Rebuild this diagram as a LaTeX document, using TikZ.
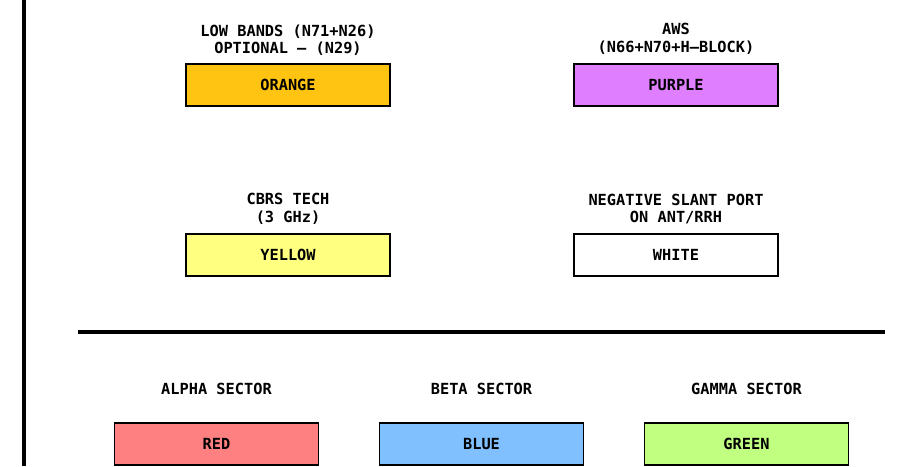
\documentclass[tikz,border=0pt]{standalone}
\usepackage{fontspec}
\setmainfont{DejaVu Sans Mono}
\definecolor{bandorange}{RGB}{255,196,18}
\definecolor{bandpurple}{RGB}{223,127,255}
\definecolor{bandyellow}{RGB}{255,255,128}
\definecolor{sectred}{RGB}{255,128,128}
\definecolor{sectblue}{RGB}{128,192,255}
\definecolor{sectgreen}{RGB}{192,255,128}
\newcommand\keyfont{\fontsize{15.3}{17.5}\selectfont\bfseries}
\begin{document}
\begin{tikzpicture}[x=1pt,y=-1pt,
  keybox/.style={draw=black, line width=1.6pt, minimum width=204pt, minimum height=42pt,
    inner sep=0pt, font=\keyfont},
  caption/.style={align=center, inner sep=0pt, font=\keyfont},
  rule/.style={line width=3.5pt}]
  \useasboundingbox (0,0) rectangle (915,466);
  % frame rule on the left and the divider between band and sector keys
  \coordinate (vtop) at (24,0);
  \coordinate (vbot) at (24,466);
  \draw[rule] (vtop) -- (vbot);
  \coordinate (hl) at (78,332);
  \coordinate (hr) at (885,332);
  \draw[rule] (hl) -- (hr);

  % band colour key
  \node[keybox, fill=bandorange] (orange) at (288,85) {ORANGE};
  \node[caption] (orangecap) at (288,40) {LOW BANDS (N71+N26)\\OPTIONAL – (N29)};
  \node[keybox, fill=bandpurple] (purple) at (676,85) {PURPLE};
  \node[caption] (purplecap) at (676,39) {AWS\\(N66+N70+H–BLOCK)};
  \node[keybox, fill=bandyellow] (yellow) at (288,255) {YELLOW};
  \node[caption] (yellowcap) at (288,209) {CBRS TECH\\(3 GHz)};
  \node[keybox, fill=white] (white) at (676,255) {WHITE};
  \node[caption] (whitecap) at (676,209) {NEGATIVE SLANT PORT\\ON ANT/RRH};

  % sector colour key
  \node[keybox, fill=sectred] (red) at (216.5,444) {RED};
  \node[caption] (redcap) at (216.5,389) {ALPHA SECTOR};
  \node[keybox, fill=sectblue] (blue) at (481.5,444) {BLUE};
  \node[caption] (bluecap) at (481.5,389) {BETA SECTOR};
  \node[keybox, fill=sectgreen] (green) at (746.5,444) {GREEN};
  \node[caption] (greencap) at (746.5,389) {GAMMA SECTOR};
\end{tikzpicture}
\end{document}
